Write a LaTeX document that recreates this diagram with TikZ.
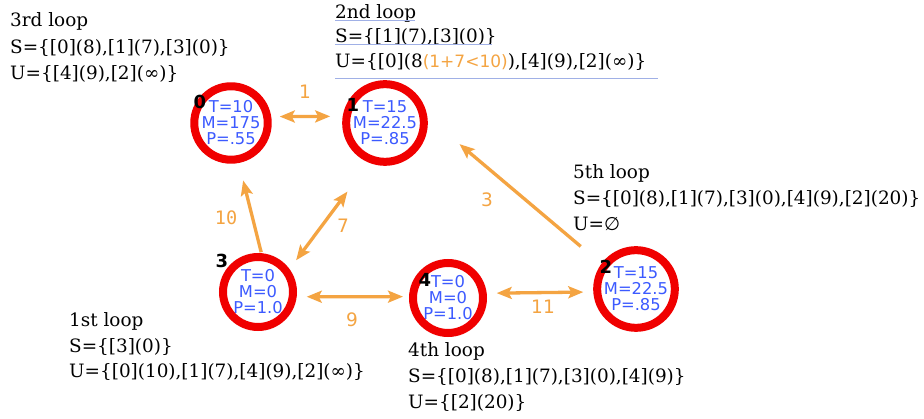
\documentclass[tikz,border=0pt]{standalone}
\usepackage{fontspec}
\setmainfont{DejaVu Serif}
\newfontfamily\labelsans{DejaVu Sans}
\newfontfamily\labelmono{DejaVu Sans Mono}
\usetikzlibrary{arrows.meta}
\definecolor{ringred}{RGB}{240,0,0}
\definecolor{edgeorange}{RGB}{244,164,66}
\definecolor{infoblue}{RGB}{60,90,255}
\definecolor{squiggle}{RGB}{160,176,230}
\begin{document}
\begin{tikzpicture}[x=1pt,y=-1pt,
  ring/.style={circle, draw=ringred, line width=8pt, minimum size=70pt, inner sep=0pt,
    align=center, text=infoblue, font=\labelsans\fontsize{16.3}{16}\selectfont},
  idx/.style={inner sep=0pt, font=\labelsans\bfseries\fontsize{18}{18}\selectfont},
  link/.style={draw=edgeorange, line width=3.3pt,
    arrows={-Stealth[length=15pt,width=12pt,inset=3pt]}},
  biglink/.style={draw=edgeorange, line width=3.3pt,
    arrows={Stealth[length=15pt,width=12pt,inset=3pt]-Stealth[length=15pt,width=12pt,inset=3pt]}},
  wt/.style={inner sep=0pt, text=edgeorange, font=\labelsans\fontsize{18.5}{18}\selectfont},
  loopline/.style={anchor=base west, inner sep=0pt, font=\fontsize{18.4}{22}\selectfont},
  spell/.style={draw=squiggle, line width=1pt},
]
\fill[white] (0,0) rectangle (924,419);
\useasboundingbox (0,0) rectangle (924,419);

% vertices
\node[ring] (n0) at (231,123) {T=10\\M=175\\P=.55};
\node[ring] (n1) at (385,123) {T=15\\M=22.5\\P=.85};
\node[ring] (n3) at (258,292) {T=0\\M=0\\P=1.0};
\node[ring] (n4) at (448,298) {T=0\\M=0\\P=1.0};
\node[ring] (n2) at (636,289) {T=15\\M=22.5\\P=.85};

% vertex indices
\node[idx] (i0) at (200,102) {0};
\node[idx] (i1) at (353,105) {1};
\node[idx] (i3) at (222,261) {3};
\node[idx] (i4) at (425,280) {4};
\node[idx] (i2) at (606,267) {2};

% weighted edges
\draw[biglink, shorten <=8.5pt, shorten >=12.5pt] (n0.9) -- (n1.171);
\draw[link, shorten <=1pt, shorten >=18pt] (n3.85) -- (n0.-79);
\draw[biglink, shorten <=11pt, shorten >=36pt] (n3.36) -- (n1.-112);
\draw[biglink, shorten <=10pt, shorten >=6pt] (n3.-7) -- (n4.178);
\draw[biglink, shorten <=10pt, shorten >=10pt] (n4.7) -- (n2.184);
\draw[link, shorten <=27pt, shorten >=42pt] (n2.144) -- (n1.8);

% edge weights
\node[wt] (w1) at (305,92) {1};
\node[wt, font=\labelmono\fontsize{18.5}{18}\selectfont] (w10) at (226,218) {10};
\node[wt] (w7) at (343,226) {7};
\node[wt] (w3) at (487,200) {3};
\node[wt] (w9) at (352,320) {9};
\node[wt] (w11) at (543,307) {11};

% iteration notes
\node[loopline] (a1) at (335,19) {2nd loop};
\node[loopline] (a2) at (335,43) {S=\{[1](7),[3](0)\}};
\node[loopline] (a3) at (335,68) {U=\{[0](8{\color{edgeorange}\labelsans\fontsize{17}{17}\selectfont(1+7<10)}),[4](9),[2](∞)\}};
\draw[spell] (335,21) -- (415,21);
\draw[spell] (335,44.5) -- (492,44.5);
\draw[spell] (335,78.5) -- (658,78.5);

\node[loopline] (b1) at (10,27) {3rd loop};
\node[loopline] (b2) at (10,54) {S=\{[0](8),[1](7),[3](0)\}};
\node[loopline] (b3) at (10,80) {U=\{[4](9),[2](∞)\}};

\node[loopline] (c1) at (573,179) {5th loop};
\node[loopline] (c2) at (573,205) {S=\{[0](8),[1](7),[3](0),[4](9),[2](20)\}};
\node[loopline] (c3) at (573,231) {U={\labelsans ∅}};

\node[loopline] (d1) at (69,327) {1st loop};
\node[loopline] (d2) at (69,353) {S=\{[3](0)\}};
\node[loopline] (d3) at (69,378) {U=\{[0](10),[1](7),[4](9),[2](∞)\}};

\node[loopline] (e1) at (408,357) {4th loop};
\node[loopline] (e2) at (408,383) {S=\{[0](8),[1](7),[3](0),[4](9)\}};
\node[loopline] (e3) at (408,409) {U=\{[2](20)\}};
\end{tikzpicture}
\end{document}
